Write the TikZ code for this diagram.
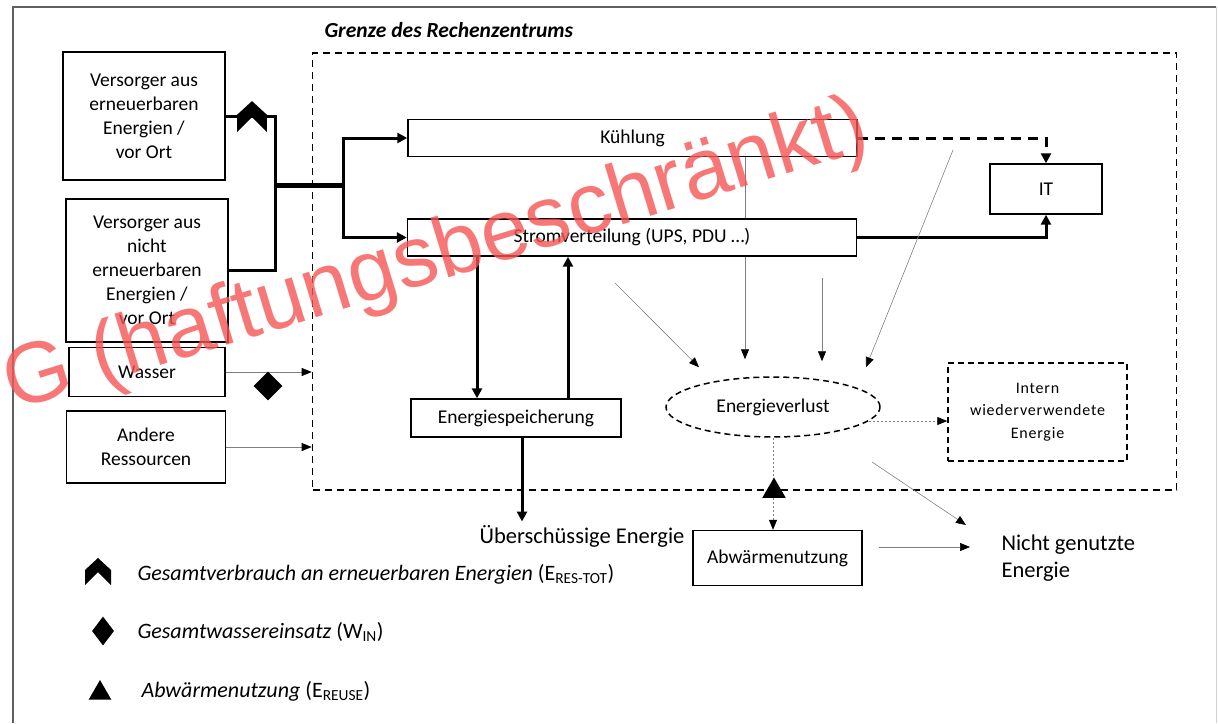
\documentclass[tikz,border=0pt]{standalone}
\usepackage{fontspec}
\setmainfont{Carlito}
\newfontfamily\wmfont{Liberation Sans}
\usepackage{xcolor}
\usetikzlibrary{shapes,arrows.meta,positioning,calc,backgrounds}

\definecolor{wmred}{RGB}{245,85,85}
\definecolor{framegray}{RGB}{95,95,95}

\begin{document}
\begin{tikzpicture}[x=1pt, y=-1pt,
    box/.style={rectangle, draw, line width=1.4pt, fill=white, align=center, inner sep=1pt, font=\fontsize{19.5}{24}\selectfont},
    bar/.style={box, minimum width=449pt, minimum height=37pt},
    dashbox/.style={draw, line width=1.5pt, dash pattern=on 6pt off 4pt},
    flow/.style={line width=3pt, -{Triangle[length=10pt,width=10pt]}},
    loss/.style={draw=gray, line width=0.6pt, -{Triangle[length=10pt,width=8pt,color=black]}},
    reuse/.style={draw=gray, line width=0.8pt, dash pattern=on 2.5pt off 1.5pt, -{Triangle[length=10pt,width=8pt,color=black]}},
    lbl/.style={font=\fontsize{22.5}{27}\selectfont},
    legend/.style={anchor=west, font=\fontsize{22}{26}\selectfont\itshape},
    chevron/.pic={\fill (0,-13) -- (13,-1) -- (13,14) -- (0,1) -- (-13,14) -- (-13,-1) -- cycle;},
    marker/.style={fill=black, inner sep=0pt}]

  \useasboundingbox (0,0) rectangle (1218,723);
  \draw[framegray, line width=2pt] (13,723) -- (13,7) -- (1216,7);
  \draw[gray!35, line width=1pt] (1216,7) -- (1216,723);

  % Grenze des Rechenzentrums
  \node[draw, line width=1.6pt, dash pattern=on 7pt off 5pt, minimum width=864pt, minimum height=437pt] (dc) at (744.5,271.5) {};
  \node[anchor=west, font=\fontsize{21.5}{24}\selectfont\bfseries\itshape] (title) at (321,30) {Grenze des Rechenzentrums};

  % Versorger und Ressourcen
  \node[box, minimum width=162pt, minimum height=128pt] (ren) at (144,116) {Versorger aus\\erneuerbaren\\Energien /\\vor Ort};
  \node[box, minimum width=162pt, minimum height=143pt] (nonren) at (147,270.5) {Versorger aus\\nicht\\erneuerbaren\\Energien /\\vor Ort};
  \node[box, minimum width=156pt, minimum height=49pt] (wasser) at (147,372) {Wasser};
  \node[box, minimum width=159pt, minimum height=72pt] (andere) at (146,447) {Andere\\Ressourcen};

  % Rechenzentrum
  \node[bar] (kuehl) at (632.5,138) {Kühlung};
  \node[bar] (strom) at (632,237.5) {Stromverteilung (UPS, PDU \dots)};
  \node[box, minimum width=112pt, minimum height=50pt] (it) at (1046,189) {IT};
  \node[box, minimum width=210pt, minimum height=38pt] (speicher) at (516,418) {Energiespeicherung};
  \node[ellipse, dashbox, minimum width=214pt, minimum height=60pt, font=\fontsize{19.5}{24}\selectfont] (verlust) at (773,407) {Energieverlust};
  \node[dashbox, minimum width=179pt, minimum height=98pt, align=center, font=\fontsize{16}{22.5}\selectfont\addfontfeatures{LetterSpace=5}] (intern) at (1037.5,412) {Intern\\wiederverwendete\\Energie};
  \node[box, minimum width=169pt, minimum height=55pt] (abw) at (777.5,558) {Abwärmenutzung};
  \node[lbl] (ueber) at (582,536) {Überschüssige Energie};
  \node[lbl, anchor=west, align=left] (nicht) at (998,558) {Nicht genutzte\\Energie};

  % Energiefluss
  \coordinate (j1) at (275,185);
  \coordinate (j2) at (343,185);
  \draw[line width=3pt] (ren.east) -| (j1);
  \draw[line width=3pt] (nonren.east) -| (j1);
  \draw[line width=5pt] (j1) -- (j2);
  \draw[flow] (j2) |- (kuehl.west);
  \draw[flow] (j2) |- (strom.west);
  \draw[flow, dash pattern=on 10pt off 7pt] (kuehl.east) -| (it.north);
  \draw[flow] (strom.east) -| (it.south);

  \coordinate (sdown) at (477,0);
  \coordinate (sback) at (568,0);
  \coordinate (sout) at (522,0);
  \draw[flow] (strom.south -| sdown) -- (speicher.north -| sdown);
  \draw[flow] (speicher.north -| sback) -- (strom.south -| sback);
  \draw[flow] (speicher.south -| sout) -- (ueber.north -| sout);

  \draw[loss] (wasser.east) -- (wasser.east -| dc.west);
  \draw[loss] (andere.east) -- (andere.east -| dc.west);

  % Verluste
  \coordinate (l1) at (615,283);
  \coordinate (l2) at (745,0);
  \coordinate (l3) at (822,278);
  \coordinate (l4) at (953,150);
  \coordinate (l5) at (872,462);
  \begin{scope}[on background layer]
    \draw[loss] (kuehl.south -| l2) -- ($(verlust.north)+(-28,-17)$);
  \end{scope}
  \draw[loss] (l1) -- ($(verlust.north)+(-74,-9)$);
  \draw[loss] (l3) -- ($(verlust.north)+(49,-15)$);
  \draw[loss] (l4) -- ($(verlust.north)+(93,-9)$);
  \draw[reuse] ($(verlust.east)+(-12,14)$) -- ($(intern.west)+(0,9)$);
  \draw[reuse] (verlust.south) -- (abw.north -| verlust.south);
  \draw[loss] ($(abw.east)+(16,-11)$) -- ($(nicht.west)+(-28,-11)$);
  \draw[loss] (l5) -- ($(nicht.west)+(-32,-33)$);

  % Kennzahlen
  \pic[scale=1.15] at (252,116) {chevron};
  \node[diamond, marker, minimum width=29pt, minimum height=29pt] (wmark) at (268,386) {};
  \node[regular polygon, regular polygon sides=3, marker, minimum size=27pt] (tmark) at (774,491) {};

  % Legende
  \pic at (98,571) {chevron};
  \node[diamond, marker, minimum width=22pt, minimum height=29pt] (lgw) at (103,631) {};
  \node[regular polygon, regular polygon sides=3, marker, minimum size=26pt] (lgt) at (100,693) {};
  \node[legend] (lg1) at (134,574) {Gesamtverbrauch an erneuerbaren Energien \textup{(E\textsubscript{RES-TOT})}};
  \node[legend] (lg2) at (134,632) {Gesamtwassereinsatz \textup{(W\textsubscript{IN})}};
  \node[legend] (lg3) at (138,691) {Abwärmenutzung \textup{(E\textsubscript{REUSE})}};

  \node[rotate=17, text=wmred, text opacity=0.8, font=\wmfont\fontsize{86}{86}\selectfont] (wm) at (437,258) {G (haftungsbeschränkt)};
\end{tikzpicture}
\end{document}
